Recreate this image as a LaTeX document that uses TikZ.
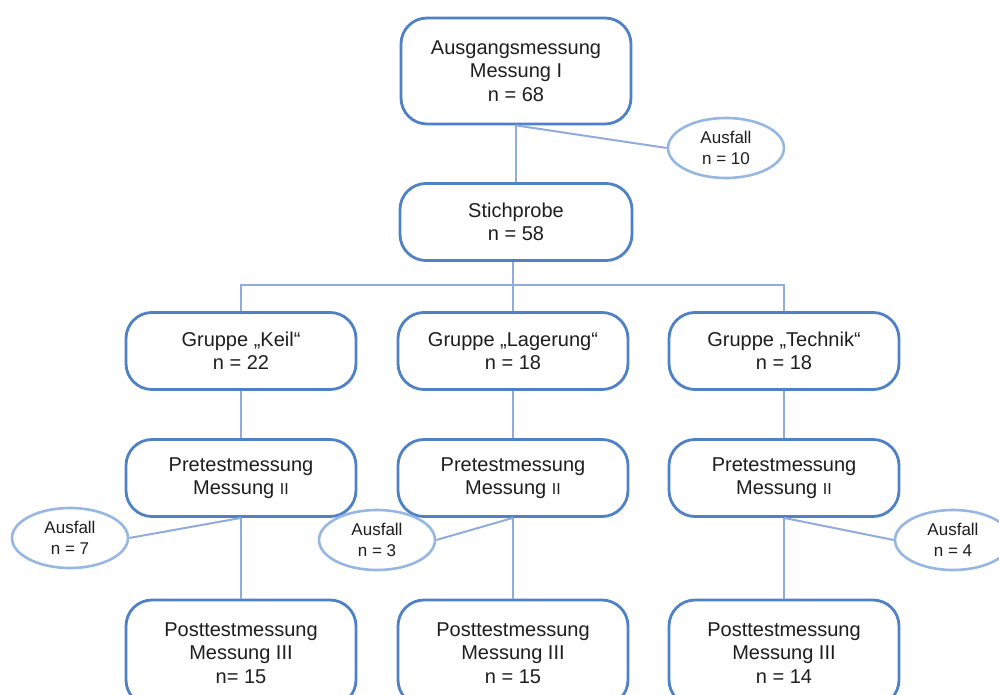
\documentclass[tikz,border=0pt]{standalone}
\usepackage{fontspec}
\setmainfont{Liberation Sans}
\usetikzlibrary{shapes.geometric}

\definecolor{boxblue}{RGB}{79,129,199}
\definecolor{lineblue}{RGB}{143,172,220}
\definecolor{ovalblue}{RGB}{150,183,226}
\definecolor{txtgray}{RGB}{30,30,30}

\tikzset{
	stufe/.style={draw=boxblue, line width=2.8pt, rounded corners=26pt, fill=white,
		minimum width=230pt, minimum height=77pt, align=center, text=txtgray,
		font=\fontsize{20}{23.5}\selectfont},
	hoch/.style={stufe, minimum height=106pt},
	ausfall/.style={draw=ovalblue, line width=2.6pt, ellipse, fill=white, inner sep=0pt,
		minimum width=116pt, minimum height=60pt, align=center, text=txtgray,
		font=\fontsize{17}{21}\selectfont},
	verb/.style={draw=lineblue, line width=2pt}
}
\newcommand{\roem}[1]{{\fontsize{16}{16}\selectfont #1}}

\begin{document}
\begin{tikzpicture}[x=1pt, y=-1pt]
				\clip (0,0) rectangle (999,695);
				\node[hoch] (start) at (516, 71) {Ausgangsmessung\\Messung I\\n = 68};
				\node[ausfall] (aus0) at (726, 148) {Ausfall\\n = 10};
				\node[stufe, minimum width=232pt] (stich) at (516, 222) {Stichprobe\\n = 58};
				\node[stufe] (keil) at (241, 351) {Gruppe „Keil“\\n = 22};
				\node[stufe] (lager) at (513, 351) {Gruppe „Lagerung“\\n = 18};
				\node[stufe] (technik) at (784, 351) {Gruppe „Technik“\\n = 18};
				\node[stufe] (preA) at (241, 478) {Pretestmessung\\Messung \roem{II}};
				\node[stufe] (preB) at (513, 478) {Pretestmessung\\Messung \roem{II}};
				\node[stufe] (preC) at (784, 478) {Pretestmessung\\Messung \roem{II}};
				\node[ausfall] (ausA) at (70, 538) {Ausfall\\n = 7};
				\node[ausfall] (ausB) at (377, 540) {Ausfall\\n = 3};
				\node[ausfall] (ausC) at (953, 540) {Ausfall\\n = 4};
				\node[hoch] (postA) at (241, 653) {Posttestmessung\\Messung III\\n= 15};
				\node[hoch] (postB) at (513, 653) {Posttestmessung\\Messung III\\n = 15};
				\node[hoch] (postC) at (784, 653) {Posttestmessung\\Messung III\\n = 14};
				\coordinate (verteiler) at (513, 285);
				\draw[verb] (start.south) -- (stich.north);
				\draw[verb] (start.south) -- (aus0.west);
				\draw[verb] (stich.south -| verteiler) -- (verteiler);
				\draw[verb] (verteiler) -| (keil.north);
				\draw[verb] (verteiler) -| (technik.north);
				\draw[verb] (verteiler) -- (lager.north);
				\draw[verb] (keil.south) -- (preA.north);
				\draw[verb] (lager.south) -- (preB.north);
				\draw[verb] (technik.south) -- (preC.north);
				\draw[verb] (preA.south) -- (postA.north);
				\draw[verb] (preB.south) -- (postB.north);
				\draw[verb] (preC.south) -- (postC.north);
				\draw[verb] (preA.south) -- (ausA.east);
				\draw[verb] (preB.south) -- (ausB.east);
				\draw[verb] (preC.south) -- (ausC.west);
\end{tikzpicture}
\end{document}
